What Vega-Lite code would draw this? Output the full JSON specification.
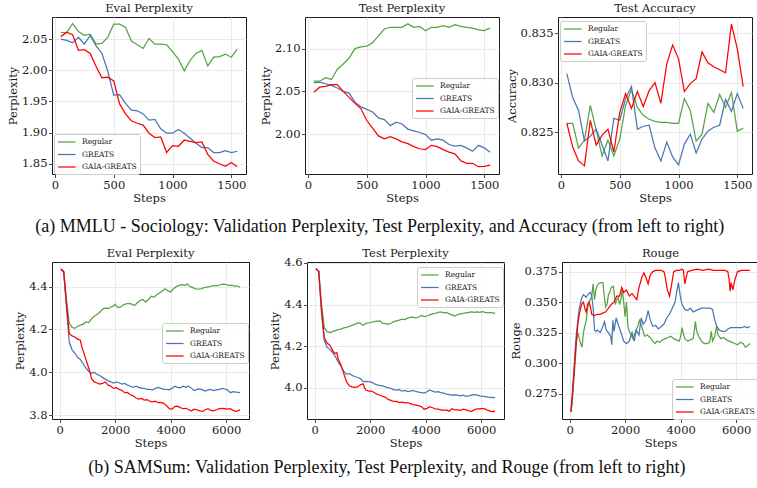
{
  "$schema": "https://vega.github.io/schema/vega-lite/v6.json",
  "background": "white",
  "padding": {"left": 6, "top": 2, "right": 5, "bottom": 5},
  "config": {
    "font": "DejaVu Serif",
    "view": {"stroke": "#1a1a1a", "strokeWidth": 1},
    "axis": {
      "grid": true, "gridColor": "#e4e4e4", "gridWidth": 0.8, "domain": false,
      "tickColor": "#1a1a1a", "tickSize": 3.5, "tickWidth": 0.8,
      "labelFont": "DejaVu Serif", "labelFontSize": 11.5, "labelColor": "#1a1a1a", "labelPadding": 1.5,
      "titleFont": "DejaVu Serif", "titleFontSize": 11.5, "titleFontWeight": "normal", "titleColor": "#1a1a1a", "titlePadding": 3
    },
    "axisX": {"labelFlush": false, "titlePadding": 1.5},
    "title": {"font": "DejaVu Serif", "fontSize": 11.5, "fontWeight": "normal", "color": "#1a1a1a", "offset": 3, "frame": "group", "anchor": "middle"},
    "legend": {
      "orient": "none", "symbolType": "M-1,0H3.4", "symbolSize": 64, "symbolStrokeWidth": 1.5,
      "labelFont": "DejaVu Serif", "labelFontSize": 7.5, "labelColor": "#1a1a1a", "labelOffset": 15,
      "rowPadding": 3.5, "padding": 3, "fillColor": "rgba(255,255,255,0.85)", "strokeColor": "#cccccc", "cornerRadius": 2.5
    },
    "line": {"strokeWidth": 1.25, "clip": true}
  },
  "datasets": {
    "mmlu_eval_regular": [{"step":50,"value":2.061},{"step":100,"value":2.060},{"step":150,"value":2.075},{"step":200,"value":2.062},{"step":250,"value":2.056},{"step":300,"value":2.058},{"step":350,"value":2.042},{"step":400,"value":2.043},{"step":450,"value":2.053},{"step":500,"value":2.074},{"step":550,"value":2.074},{"step":600,"value":2.069},{"step":650,"value":2.047},{"step":700,"value":2.041},{"step":750,"value":2.035},{"step":800,"value":2.051},{"step":850,"value":2.042},{"step":900,"value":2.042},{"step":950,"value":2.041},{"step":1000,"value":2.030},{"step":1050,"value":2.018},{"step":1100,"value":1.999},{"step":1150,"value":2.016},{"step":1200,"value":2.027},{"step":1250,"value":2.032},{"step":1300,"value":2.007},{"step":1350,"value":2.021},{"step":1400,"value":2.022},{"step":1450,"value":2.026},{"step":1500,"value":2.021},{"step":1550,"value":2.034}],
    "mmlu_eval_greats": [{"step":50,"value":2.050},{"step":100,"value":2.048},{"step":150,"value":2.044},{"step":200,"value":2.053},{"step":250,"value":2.042},{"step":300,"value":2.056},{"step":350,"value":2.039},{"step":400,"value":2.027},{"step":450,"value":1.998},{"step":500,"value":1.960},{"step":550,"value":1.961},{"step":600,"value":1.947},{"step":650,"value":1.936},{"step":700,"value":1.935},{"step":750,"value":1.930},{"step":800,"value":1.920},{"step":850,"value":1.921},{"step":900,"value":1.906},{"step":950,"value":1.899},{"step":1000,"value":1.899},{"step":1050,"value":1.905},{"step":1100,"value":1.899},{"step":1150,"value":1.891},{"step":1200,"value":1.883},{"step":1250,"value":1.876},{"step":1300,"value":1.876},{"step":1350,"value":1.868},{"step":1400,"value":1.868},{"step":1450,"value":1.871},{"step":1500,"value":1.868},{"step":1550,"value":1.870}],
    "mmlu_eval_gaia": [{"step":50,"value":2.054},{"step":100,"value":2.061},{"step":150,"value":2.057},{"step":200,"value":2.032},{"step":250,"value":2.033},{"step":300,"value":2.027},{"step":350,"value":2.006},{"step":400,"value":1.988},{"step":450,"value":1.989},{"step":500,"value":1.983},{"step":550,"value":1.946},{"step":600,"value":1.930},{"step":650,"value":1.919},{"step":700,"value":1.915},{"step":750,"value":1.912},{"step":800,"value":1.899},{"step":850,"value":1.892},{"step":900,"value":1.893},{"step":950,"value":1.868},{"step":1000,"value":1.879},{"step":1050,"value":1.878},{"step":1100,"value":1.888},{"step":1150,"value":1.886},{"step":1200,"value":1.884},{"step":1250,"value":1.885},{"step":1300,"value":1.865},{"step":1350,"value":1.854},{"step":1400,"value":1.850},{"step":1450,"value":1.846},{"step":1500,"value":1.852},{"step":1550,"value":1.845}],
    "mmlu_test_regular": [{"step":50,"value":2.062},{"step":100,"value":2.062},{"step":150,"value":2.066},{"step":200,"value":2.064},{"step":250,"value":2.076},{"step":300,"value":2.082},{"step":350,"value":2.089},{"step":400,"value":2.100},{"step":450,"value":2.102},{"step":500,"value":2.103},{"step":550,"value":2.107},{"step":600,"value":2.115},{"step":650,"value":2.123},{"step":700,"value":2.125},{"step":750,"value":2.125},{"step":800,"value":2.125},{"step":850,"value":2.129},{"step":900,"value":2.125},{"step":950,"value":2.126},{"step":1000,"value":2.121},{"step":1050,"value":2.125},{"step":1100,"value":2.125},{"step":1150,"value":2.127},{"step":1200,"value":2.125},{"step":1250,"value":2.128},{"step":1300,"value":2.126},{"step":1350,"value":2.125},{"step":1400,"value":2.124},{"step":1450,"value":2.122},{"step":1500,"value":2.121},{"step":1550,"value":2.124}],
    "mmlu_test_greats": [{"step":50,"value":2.060},{"step":100,"value":2.061},{"step":150,"value":2.059},{"step":200,"value":2.057},{"step":250,"value":2.054},{"step":300,"value":2.050},{"step":350,"value":2.048},{"step":400,"value":2.0375},{"step":450,"value":2.032},{"step":500,"value":2.029},{"step":550,"value":2.026},{"step":600,"value":2.019},{"step":650,"value":2.017},{"step":700,"value":2.010},{"step":750,"value":2.014},{"step":800,"value":2.012},{"step":850,"value":2.006},{"step":900,"value":2.004},{"step":950,"value":2.002},{"step":1000,"value":1.9996},{"step":1050,"value":1.993},{"step":1100,"value":1.9945},{"step":1150,"value":1.993},{"step":1200,"value":1.988},{"step":1250,"value":1.986},{"step":1300,"value":1.987},{"step":1350,"value":1.984},{"step":1400,"value":1.980},{"step":1450,"value":1.987},{"step":1500,"value":1.984},{"step":1550,"value":1.979}],
    "mmlu_test_gaia": [{"step":50,"value":2.049},{"step":100,"value":2.055},{"step":150,"value":2.056},{"step":200,"value":2.058},{"step":250,"value":2.058},{"step":300,"value":2.050},{"step":350,"value":2.043},{"step":400,"value":2.036},{"step":450,"value":2.030},{"step":500,"value":2.016},{"step":550,"value":2.007},{"step":600,"value":1.998},{"step":650,"value":1.9945},{"step":700,"value":1.997},{"step":750,"value":1.9945},{"step":800,"value":1.991},{"step":850,"value":1.989},{"step":900,"value":1.9855},{"step":950,"value":1.983},{"step":1000,"value":1.982},{"step":1050,"value":1.987},{"step":1100,"value":1.9855},{"step":1150,"value":1.982},{"step":1200,"value":1.979},{"step":1250,"value":1.977},{"step":1300,"value":1.969},{"step":1350,"value":1.966},{"step":1400,"value":1.966},{"step":1450,"value":1.962},{"step":1500,"value":1.9625},{"step":1550,"value":1.964}],
    "mmlu_acc_regular": [{"step":50,"value":0.8259},{"step":100,"value":0.8259},{"step":150,"value":0.8234},{"step":200,"value":0.8242},{"step":250,"value":0.8277},{"step":300,"value":0.8252},{"step":350,"value":0.8226},{"step":400,"value":0.8242},{"step":450,"value":0.8226},{"step":500,"value":0.8243},{"step":550,"value":0.8277},{"step":600,"value":0.8293},{"step":650,"value":0.8275},{"step":700,"value":0.8267},{"step":750,"value":0.8263},{"step":800,"value":0.8261},{"step":850,"value":0.8260},{"step":900,"value":0.8260},{"step":950,"value":0.8259},{"step":1000,"value":0.8259},{"step":1050,"value":0.8284},{"step":1100,"value":0.8272},{"step":1150,"value":0.8241},{"step":1200,"value":0.8248},{"step":1250,"value":0.8279},{"step":1300,"value":0.8270},{"step":1350,"value":0.8288},{"step":1400,"value":0.8275},{"step":1450,"value":0.8290},{"step":1500,"value":0.8251},{"step":1550,"value":0.8254}],
    "mmlu_acc_greats": [{"step":50,"value":0.8309},{"step":100,"value":0.8285},{"step":150,"value":0.8272},{"step":200,"value":0.8241},{"step":250,"value":0.8246},{"step":300,"value":0.8253},{"step":350,"value":0.8237},{"step":400,"value":0.8221},{"step":450,"value":0.8264},{"step":500,"value":0.8262},{"step":550,"value":0.8284},{"step":600,"value":0.8296},{"step":650,"value":0.8253},{"step":700,"value":0.8256},{"step":750,"value":0.8257},{"step":800,"value":0.8234},{"step":850,"value":0.8221},{"step":900,"value":0.8240},{"step":950,"value":0.8225},{"step":1000,"value":0.8217},{"step":1050,"value":0.8238},{"step":1100,"value":0.8248},{"step":1150,"value":0.8229},{"step":1200,"value":0.8243},{"step":1250,"value":0.8251},{"step":1300,"value":0.8255},{"step":1350,"value":0.8257},{"step":1400,"value":0.8283},{"step":1450,"value":0.8271},{"step":1500,"value":0.8289},{"step":1550,"value":0.8274}],
    "mmlu_acc_gaia": [{"step":50,"value":0.8259},{"step":100,"value":0.8235},{"step":150,"value":0.8221},{"step":200,"value":0.8216},{"step":250,"value":0.8262},{"step":300,"value":0.8237},{"step":350,"value":0.8247},{"step":400,"value":0.8253},{"step":450,"value":0.8230},{"step":500,"value":0.8270},{"step":550,"value":0.8289},{"step":600,"value":0.8274},{"step":650,"value":0.8291},{"step":700,"value":0.8276},{"step":750,"value":0.8292},{"step":800,"value":0.8300},{"step":850,"value":0.8279},{"step":900,"value":0.8319},{"step":950,"value":0.8338},{"step":1000,"value":0.8324},{"step":1050,"value":0.8291},{"step":1100,"value":0.8299},{"step":1150,"value":0.8304},{"step":1200,"value":0.8331},{"step":1250,"value":0.8320},{"step":1300,"value":0.8316},{"step":1350,"value":0.8313},{"step":1400,"value":0.8310},{"step":1450,"value":0.8359},{"step":1500,"value":0.8334},{"step":1550,"value":0.8296}],
    "samsum_eval_regular": [{"step":50,"value":4.482},{"step":150,"value":4.470},{"step":250,"value":4.34},{"step":350,"value":4.23},{"step":450,"value":4.21},{"step":550,"value":4.205},{"step":650,"value":4.215},{"step":750,"value":4.22},{"step":850,"value":4.225},{"step":950,"value":4.235},{"step":1050,"value":4.232},{"step":1150,"value":4.25},{"step":1250,"value":4.262},{"step":1350,"value":4.27},{"step":1450,"value":4.28},{"step":1550,"value":4.295},{"step":1650,"value":4.30},{"step":1750,"value":4.298},{"step":1850,"value":4.305},{"step":1950,"value":4.31},{"step":2000,"value":4.318},{"step":2100,"value":4.302},{"step":2200,"value":4.305},{"step":2300,"value":4.315},{"step":2400,"value":4.32},{"step":2500,"value":4.322},{"step":2600,"value":4.318},{"step":2700,"value":4.312},{"step":2800,"value":4.325},{"step":2900,"value":4.335},{"step":3000,"value":4.34},{"step":3100,"value":4.328},{"step":3200,"value":4.34},{"step":3300,"value":4.355},{"step":3400,"value":4.35},{"step":3500,"value":4.362},{"step":3600,"value":4.37},{"step":3700,"value":4.38},{"step":3800,"value":4.39},{"step":3900,"value":4.38},{"step":4000,"value":4.375},{"step":4100,"value":4.39},{"step":4200,"value":4.40},{"step":4300,"value":4.405},{"step":4400,"value":4.41},{"step":4500,"value":4.405},{"step":4600,"value":4.412},{"step":4700,"value":4.40},{"step":4800,"value":4.395},{"step":4900,"value":4.39},{"step":5000,"value":4.388},{"step":5100,"value":4.39},{"step":5200,"value":4.395},{"step":5300,"value":4.398},{"step":5400,"value":4.40},{"step":5500,"value":4.404},{"step":5600,"value":4.406},{"step":5700,"value":4.405},{"step":5800,"value":4.41},{"step":5900,"value":4.412},{"step":6000,"value":4.41},{"step":6100,"value":4.405},{"step":6200,"value":4.407},{"step":6300,"value":4.402},{"step":6400,"value":4.404},{"step":6500,"value":4.398}],
    "samsum_eval_greats": [{"step":50,"value":4.482},{"step":150,"value":4.465},{"step":250,"value":4.30},{"step":350,"value":4.14},{"step":450,"value":4.105},{"step":550,"value":4.09},{"step":650,"value":4.07},{"step":750,"value":4.06},{"step":850,"value":4.04},{"step":950,"value":4.02},{"step":1050,"value":4.005},{"step":1150,"value":3.995},{"step":1250,"value":4.0},{"step":1350,"value":3.99},{"step":1450,"value":3.985},{"step":1550,"value":3.975},{"step":1650,"value":3.968},{"step":1750,"value":3.96},{"step":1850,"value":3.955},{"step":1950,"value":3.95},{"step":2050,"value":3.955},{"step":2150,"value":3.95},{"step":2250,"value":3.945},{"step":2350,"value":3.948},{"step":2450,"value":3.94},{"step":2550,"value":3.935},{"step":2650,"value":3.93},{"step":2750,"value":3.935},{"step":2850,"value":3.93},{"step":2950,"value":3.925},{"step":3050,"value":3.925},{"step":3150,"value":3.92},{"step":3250,"value":3.92},{"step":3350,"value":3.918},{"step":3450,"value":3.925},{"step":3550,"value":3.93},{"step":3650,"value":3.925},{"step":3750,"value":3.92},{"step":3850,"value":3.92},{"step":3950,"value":3.918},{"step":4050,"value":3.925},{"step":4150,"value":3.935},{"step":4250,"value":3.93},{"step":4350,"value":3.928},{"step":4450,"value":3.935},{"step":4550,"value":3.93},{"step":4650,"value":3.935},{"step":4750,"value":3.925},{"step":4850,"value":3.915},{"step":4950,"value":3.92},{"step":5050,"value":3.922},{"step":5150,"value":3.918},{"step":5250,"value":3.912},{"step":5350,"value":3.918},{"step":5450,"value":3.92},{"step":5550,"value":3.915},{"step":5650,"value":3.918},{"step":5750,"value":3.92},{"step":5850,"value":3.925},{"step":5950,"value":3.922},{"step":6050,"value":3.918},{"step":6150,"value":3.905},{"step":6250,"value":3.91},{"step":6350,"value":3.908},{"step":6450,"value":3.905},{"step":6500,"value":3.906}],
    "samsum_eval_gaia": [{"step":50,"value":4.482},{"step":150,"value":4.47},{"step":250,"value":4.32},{"step":350,"value":4.18},{"step":450,"value":4.17},{"step":550,"value":4.165},{"step":650,"value":4.155},{"step":750,"value":4.15},{"step":800,"value":4.12},{"step":900,"value":4.08},{"step":1000,"value":4.04},{"step":1100,"value":4.0},{"step":1150,"value":3.97},{"step":1250,"value":3.955},{"step":1350,"value":3.95},{"step":1450,"value":3.945},{"step":1550,"value":3.948},{"step":1650,"value":3.955},{"step":1750,"value":3.94},{"step":1850,"value":3.935},{"step":1950,"value":3.925},{"step":2050,"value":3.928},{"step":2150,"value":3.92},{"step":2250,"value":3.915},{"step":2350,"value":3.905},{"step":2450,"value":3.905},{"step":2550,"value":3.895},{"step":2650,"value":3.89},{"step":2750,"value":3.88},{"step":2850,"value":3.875},{"step":2950,"value":3.878},{"step":3050,"value":3.87},{"step":3150,"value":3.872},{"step":3250,"value":3.865},{"step":3350,"value":3.862},{"step":3450,"value":3.865},{"step":3550,"value":3.858},{"step":3650,"value":3.86},{"step":3750,"value":3.855},{"step":3850,"value":3.845},{"step":3950,"value":3.83},{"step":4050,"value":3.828},{"step":4150,"value":3.84},{"step":4250,"value":3.842},{"step":4350,"value":3.835},{"step":4450,"value":3.83},{"step":4550,"value":3.832},{"step":4650,"value":3.825},{"step":4750,"value":3.82},{"step":4850,"value":3.828},{"step":4950,"value":3.825},{"step":5050,"value":3.82},{"step":5150,"value":3.818},{"step":5250,"value":3.825},{"step":5350,"value":3.83},{"step":5450,"value":3.822},{"step":5550,"value":3.82},{"step":5650,"value":3.825},{"step":5750,"value":3.83},{"step":5850,"value":3.832},{"step":5950,"value":3.83},{"step":6050,"value":3.828},{"step":6150,"value":3.83},{"step":6250,"value":3.822},{"step":6350,"value":3.818},{"step":6450,"value":3.822},{"step":6500,"value":3.826}],
    "samsum_test_regular": [{"step":50,"value":4.572},{"step":150,"value":4.56},{"step":250,"value":4.40},{"step":350,"value":4.29},{"step":450,"value":4.27},{"step":550,"value":4.265},{"step":650,"value":4.27},{"step":750,"value":4.275},{"step":850,"value":4.28},{"step":950,"value":4.282},{"step":1050,"value":4.288},{"step":1150,"value":4.29},{"step":1250,"value":4.295},{"step":1350,"value":4.30},{"step":1450,"value":4.305},{"step":1550,"value":4.312},{"step":1650,"value":4.31},{"step":1750,"value":4.30},{"step":1850,"value":4.31},{"step":1950,"value":4.312},{"step":2050,"value":4.315},{"step":2150,"value":4.318},{"step":2250,"value":4.32},{"step":2350,"value":4.322},{"step":2450,"value":4.31},{"step":2550,"value":4.308},{"step":2650,"value":4.305},{"step":2750,"value":4.31},{"step":2850,"value":4.318},{"step":2950,"value":4.322},{"step":3050,"value":4.325},{"step":3150,"value":4.33},{"step":3250,"value":4.328},{"step":3350,"value":4.335},{"step":3450,"value":4.338},{"step":3550,"value":4.34},{"step":3650,"value":4.335},{"step":3750,"value":4.34},{"step":3850,"value":4.348},{"step":3950,"value":4.342},{"step":4050,"value":4.345},{"step":4150,"value":4.35},{"step":4250,"value":4.355},{"step":4350,"value":4.358},{"step":4450,"value":4.362},{"step":4550,"value":4.365},{"step":4650,"value":4.36},{"step":4750,"value":4.362},{"step":4850,"value":4.355},{"step":4950,"value":4.35},{"step":5050,"value":4.345},{"step":5150,"value":4.352},{"step":5250,"value":4.355},{"step":5350,"value":4.358},{"step":5450,"value":4.36},{"step":5550,"value":4.362},{"step":5650,"value":4.365},{"step":5750,"value":4.362},{"step":5850,"value":4.365},{"step":5950,"value":4.363},{"step":6050,"value":4.366},{"step":6150,"value":4.362},{"step":6250,"value":4.36},{"step":6350,"value":4.362},{"step":6450,"value":4.358},{"step":6500,"value":4.36}],
    "samsum_test_greats": [{"step":50,"value":4.572},{"step":150,"value":4.56},{"step":250,"value":4.36},{"step":350,"value":4.23},{"step":450,"value":4.195},{"step":550,"value":4.185},{"step":650,"value":4.17},{"step":750,"value":4.15},{"step":850,"value":4.125},{"step":950,"value":4.105},{"step":1050,"value":4.08},{"step":1150,"value":4.065},{"step":1250,"value":4.07},{"step":1350,"value":4.06},{"step":1450,"value":4.055},{"step":1550,"value":4.05},{"step":1650,"value":4.045},{"step":1750,"value":4.03},{"step":1850,"value":4.032},{"step":1950,"value":4.03},{"step":2050,"value":4.028},{"step":2150,"value":4.02},{"step":2250,"value":4.015},{"step":2350,"value":4.012},{"step":2450,"value":4.01},{"step":2550,"value":4.005},{"step":2650,"value":4.0},{"step":2750,"value":3.998},{"step":2850,"value":3.992},{"step":2950,"value":3.99},{"step":3050,"value":3.992},{"step":3150,"value":3.985},{"step":3250,"value":3.988},{"step":3350,"value":3.982},{"step":3450,"value":3.985},{"step":3550,"value":3.988},{"step":3650,"value":3.983},{"step":3750,"value":3.98},{"step":3850,"value":3.978},{"step":3950,"value":3.975},{"step":4050,"value":3.982},{"step":4150,"value":3.99},{"step":4250,"value":3.985},{"step":4350,"value":3.98},{"step":4450,"value":3.982},{"step":4550,"value":3.978},{"step":4650,"value":3.975},{"step":4750,"value":3.97},{"step":4850,"value":3.968},{"step":4950,"value":3.965},{"step":5050,"value":3.967},{"step":5150,"value":3.965},{"step":5250,"value":3.962},{"step":5350,"value":3.965},{"step":5450,"value":3.96},{"step":5550,"value":3.962},{"step":5650,"value":3.965},{"step":5750,"value":3.968},{"step":5850,"value":3.965},{"step":5950,"value":3.962},{"step":6050,"value":3.96},{"step":6150,"value":3.958},{"step":6250,"value":3.956},{"step":6350,"value":3.955},{"step":6450,"value":3.954},{"step":6500,"value":3.955}],
    "samsum_test_gaia": [{"step":50,"value":4.572},{"step":150,"value":4.56},{"step":250,"value":4.38},{"step":350,"value":4.24},{"step":450,"value":4.215},{"step":550,"value":4.205},{"step":650,"value":4.18},{"step":700,"value":4.17},{"step":750,"value":4.165},{"step":800,"value":4.17},{"step":850,"value":4.14},{"step":950,"value":4.11},{"step":1050,"value":4.07},{"step":1150,"value":4.03},{"step":1250,"value":4.01},{"step":1350,"value":4.005},{"step":1450,"value":4.003},{"step":1550,"value":4.005},{"step":1650,"value":4.015},{"step":1750,"value":4.02},{"step":1800,"value":4.0},{"step":1850,"value":3.99},{"step":1950,"value":3.985},{"step":2050,"value":3.985},{"step":2150,"value":3.978},{"step":2250,"value":3.97},{"step":2350,"value":3.965},{"step":2450,"value":3.96},{"step":2550,"value":3.955},{"step":2650,"value":3.945},{"step":2750,"value":3.94},{"step":2850,"value":3.935},{"step":2950,"value":3.935},{"step":3050,"value":3.93},{"step":3150,"value":3.932},{"step":3250,"value":3.928},{"step":3350,"value":3.93},{"step":3450,"value":3.925},{"step":3550,"value":3.92},{"step":3650,"value":3.918},{"step":3750,"value":3.915},{"step":3850,"value":3.91},{"step":3950,"value":3.898},{"step":4050,"value":3.902},{"step":4150,"value":3.91},{"step":4250,"value":3.905},{"step":4350,"value":3.9},{"step":4450,"value":3.898},{"step":4550,"value":3.895},{"step":4650,"value":3.892},{"step":4750,"value":3.895},{"step":4850,"value":3.888},{"step":4950,"value":3.9},{"step":5050,"value":3.895},{"step":5150,"value":3.895},{"step":5250,"value":3.892},{"step":5350,"value":3.898},{"step":5450,"value":3.895},{"step":5550,"value":3.89},{"step":5650,"value":3.888},{"step":5750,"value":3.895},{"step":5850,"value":3.9},{"step":5950,"value":3.9},{"step":6050,"value":3.902},{"step":6150,"value":3.898},{"step":6250,"value":3.892},{"step":6350,"value":3.888},{"step":6450,"value":3.887},{"step":6500,"value":3.89}],
    "samsum_rouge_regular": [{"step":50,"value":0.260},{"step":100,"value":0.268},{"step":150,"value":0.285},{"step":200,"value":0.300},{"step":250,"value":0.318},{"step":300,"value":0.325},{"step":350,"value":0.320},{"step":400,"value":0.316},{"step":450,"value":0.313},{"step":500,"value":0.325},{"step":550,"value":0.330},{"step":600,"value":0.335},{"step":650,"value":0.345},{"step":700,"value":0.350},{"step":750,"value":0.352},{"step":800,"value":0.355},{"step":850,"value":0.365},{"step":900,"value":0.352},{"step":950,"value":0.360},{"step":1000,"value":0.364},{"step":1100,"value":0.366},{"step":1200,"value":0.366},{"step":1250,"value":0.355},{"step":1300,"value":0.346},{"step":1350,"value":0.348},{"step":1400,"value":0.356},{"step":1450,"value":0.358},{"step":1500,"value":0.362},{"step":1580,"value":0.363},{"step":1650,"value":0.348},{"step":1700,"value":0.352},{"step":1750,"value":0.354},{"step":1800,"value":0.348},{"step":1850,"value":0.352},{"step":1900,"value":0.360},{"step":1950,"value":0.350},{"step":2000,"value":0.338},{"step":2050,"value":0.350},{"step":2100,"value":0.330},{"step":2150,"value":0.326},{"step":2200,"value":0.324},{"step":2280,"value":0.320},{"step":2350,"value":0.324},{"step":2450,"value":0.330},{"step":2520,"value":0.335},{"step":2600,"value":0.330},{"step":2700,"value":0.322},{"step":2800,"value":0.323},{"step":2900,"value":0.321},{"step":3000,"value":0.318},{"step":3080,"value":0.316},{"step":3150,"value":0.318},{"step":3250,"value":0.317},{"step":3350,"value":0.319},{"step":3450,"value":0.320},{"step":3550,"value":0.321},{"step":3650,"value":0.322},{"step":3750,"value":0.320},{"step":3850,"value":0.319},{"step":3950,"value":0.318},{"step":4000,"value":0.322},{"step":4050,"value":0.329},{"step":4100,"value":0.324},{"step":4150,"value":0.320},{"step":4250,"value":0.318},{"step":4350,"value":0.319},{"step":4450,"value":0.320},{"step":4500,"value":0.328},{"step":4530,"value":0.334},{"step":4580,"value":0.326},{"step":4650,"value":0.322},{"step":4750,"value":0.318},{"step":4850,"value":0.316},{"step":4950,"value":0.316},{"step":5050,"value":0.317},{"step":5100,"value":0.326},{"step":5150,"value":0.318},{"step":5230,"value":0.322},{"step":5290,"value":0.330},{"step":5350,"value":0.323},{"step":5450,"value":0.320},{"step":5550,"value":0.321},{"step":5650,"value":0.319},{"step":5750,"value":0.318},{"step":5850,"value":0.317},{"step":5950,"value":0.316},{"step":6050,"value":0.315},{"step":6150,"value":0.317},{"step":6250,"value":0.316},{"step":6330,"value":0.313},{"step":6400,"value":0.314},{"step":6500,"value":0.316}],
    "samsum_rouge_greats": [{"step":50,"value":0.260},{"step":100,"value":0.272},{"step":150,"value":0.290},{"step":200,"value":0.310},{"step":250,"value":0.325},{"step":300,"value":0.335},{"step":350,"value":0.345},{"step":400,"value":0.350},{"step":450,"value":0.354},{"step":500,"value":0.356},{"step":550,"value":0.355},{"step":600,"value":0.354},{"step":650,"value":0.356},{"step":700,"value":0.357},{"step":750,"value":0.358},{"step":800,"value":0.355},{"step":850,"value":0.345},{"step":900,"value":0.327},{"step":950,"value":0.326},{"step":1000,"value":0.327},{"step":1100,"value":0.325},{"step":1200,"value":0.330},{"step":1260,"value":0.334},{"step":1320,"value":0.327},{"step":1400,"value":0.325},{"step":1480,"value":0.322},{"step":1520,"value":0.315},{"step":1560,"value":0.335},{"step":1600,"value":0.326},{"step":1680,"value":0.337},{"step":1760,"value":0.331},{"step":1850,"value":0.325},{"step":1950,"value":0.318},{"step":2050,"value":0.316},{"step":2150,"value":0.318},{"step":2250,"value":0.325},{"step":2330,"value":0.318},{"step":2400,"value":0.327},{"step":2500,"value":0.323},{"step":2580,"value":0.337},{"step":2650,"value":0.332},{"step":2750,"value":0.335},{"step":2830,"value":0.343},{"step":2900,"value":0.336},{"step":3000,"value":0.330},{"step":3100,"value":0.331},{"step":3200,"value":0.328},{"step":3300,"value":0.330},{"step":3400,"value":0.332},{"step":3500,"value":0.337},{"step":3600,"value":0.340},{"step":3700,"value":0.345},{"step":3800,"value":0.350},{"step":3870,"value":0.360},{"step":3920,"value":0.366},{"step":3980,"value":0.356},{"step":4050,"value":0.348},{"step":4150,"value":0.344},{"step":4250,"value":0.343},{"step":4350,"value":0.345},{"step":4450,"value":0.342},{"step":4550,"value":0.343},{"step":4650,"value":0.344},{"step":4750,"value":0.345},{"step":4850,"value":0.345},{"step":4950,"value":0.345},{"step":5050,"value":0.345},{"step":5150,"value":0.344},{"step":5220,"value":0.336},{"step":5300,"value":0.330},{"step":5400,"value":0.327},{"step":5500,"value":0.326},{"step":5600,"value":0.326},{"step":5700,"value":0.328},{"step":5800,"value":0.329},{"step":5900,"value":0.329},{"step":6000,"value":0.329},{"step":6100,"value":0.329},{"step":6200,"value":0.329},{"step":6300,"value":0.330},{"step":6400,"value":0.329},{"step":6500,"value":0.330}],
    "samsum_rouge_gaia": [{"step":50,"value":0.260},{"step":100,"value":0.275},{"step":150,"value":0.290},{"step":200,"value":0.305},{"step":250,"value":0.320},{"step":300,"value":0.332},{"step":350,"value":0.340},{"step":400,"value":0.345},{"step":450,"value":0.349},{"step":500,"value":0.350},{"step":550,"value":0.345},{"step":600,"value":0.342},{"step":650,"value":0.348},{"step":700,"value":0.350},{"step":750,"value":0.346},{"step":800,"value":0.340},{"step":900,"value":0.339},{"step":1000,"value":0.340},{"step":1100,"value":0.340},{"step":1200,"value":0.341},{"step":1300,"value":0.342},{"step":1400,"value":0.345},{"step":1500,"value":0.348},{"step":1600,"value":0.350},{"step":1700,"value":0.355},{"step":1800,"value":0.355},{"step":1880,"value":0.362},{"step":1950,"value":0.358},{"step":2050,"value":0.360},{"step":2150,"value":0.355},{"step":2250,"value":0.357},{"step":2350,"value":0.354},{"step":2420,"value":0.352},{"step":2500,"value":0.362},{"step":2600,"value":0.370},{"step":2680,"value":0.374},{"step":2750,"value":0.370},{"step":2830,"value":0.365},{"step":2900,"value":0.372},{"step":3000,"value":0.375},{"step":3100,"value":0.376},{"step":3200,"value":0.376},{"step":3300,"value":0.376},{"step":3400,"value":0.375},{"step":3450,"value":0.370},{"step":3520,"value":0.360},{"step":3600,"value":0.355},{"step":3680,"value":0.365},{"step":3750,"value":0.375},{"step":3850,"value":0.376},{"step":3950,"value":0.376},{"step":4050,"value":0.377},{"step":4100,"value":0.376},{"step":4150,"value":0.365},{"step":4200,"value":0.370},{"step":4250,"value":0.375},{"step":4400,"value":0.376},{"step":4600,"value":0.377},{"step":4800,"value":0.376},{"step":5000,"value":0.377},{"step":5200,"value":0.376},{"step":5400,"value":0.376},{"step":5600,"value":0.376},{"step":5700,"value":0.375},{"step":5750,"value":0.368},{"step":5780,"value":0.359},{"step":5820,"value":0.366},{"step":5880,"value":0.360},{"step":5950,"value":0.368},{"step":6050,"value":0.375},{"step":6200,"value":0.376},{"step":6350,"value":0.376},{"step":6500,"value":0.376}]
  },
  "resolve": {"scale": {"color": "independent"}, "legend": {"color": "independent"}},
  "bounds": "full",
  "spacing": 11,
  "vconcat": [
    {
      "bounds": "flush",
      "spacing": 59,
      "resolve": {"scale": {"color": "independent"}, "legend": {"color": "independent"}},
      "title": {"text": "(a) MMLU - Sociology: Validation Perplexity, Test Perplexity, and Accuracy (from left to right)", "orient": "bottom", "anchor": "middle", "frame": "bounds", "font": "Liberation Serif", "fontSize": 18, "fontWeight": "normal", "color": "#111111", "offset": 14},
      "hconcat": [
        {
          "width": 194, "height": 157,
          "title": {"text": "Eval Perplexity"},
          "encoding": {
            "x": {"field": "step", "type": "quantitative", "scale": {"domain": [-25, 1625], "nice": false, "zero": false}, "axis": {"values": [0, 500, 1000, 1500], "format": "d", "title": "Steps"}},
            "y": {"field": "value", "type": "quantitative", "scale": {"domain": [1.8335, 2.0855], "nice": false, "zero": false}, "axis": {"values": [1.85, 1.9, 1.95, 2.0, 2.05], "format": ".2f", "title": "Perplexity"}}
          },
          "layer": [
            {"data": {"name": "mmlu_eval_regular"}, "mark": "line", "encoding": {"color": {"datum": "Regular", "type": "nominal", "scale": {"domain": ["Regular", "GREATS", "GAIA-GREATS"], "range": ["#55a444", "#4b76b2", "#ff0000"]}, "legend": {"title": null, "legendX": 2, "legendY": 117}}}},
            {"data": {"name": "mmlu_eval_greats"}, "mark": "line", "encoding": {"color": {"datum": "GREATS", "type": "nominal"}}},
            {"data": {"name": "mmlu_eval_gaia"}, "mark": "line", "encoding": {"color": {"datum": "GAIA-GREATS", "type": "nominal"}}}
          ]
        },
        {
          "width": 194, "height": 157,
          "title": {"text": "Test Perplexity"},
          "encoding": {
            "x": {"field": "step", "type": "quantitative", "scale": {"domain": [-25, 1625], "nice": false, "zero": false}, "axis": {"values": [0, 500, 1000, 1500], "format": "d", "title": "Steps"}},
            "y": {"field": "value", "type": "quantitative", "scale": {"domain": [1.9535, 2.137], "nice": false, "zero": false}, "axis": {"values": [2.0, 2.05, 2.1], "format": ".2f", "title": "Perplexity"}}
          },
          "layer": [
            {"data": {"name": "mmlu_test_regular"}, "mark": "line", "encoding": {"color": {"datum": "Regular", "type": "nominal", "scale": {"domain": ["Regular", "GREATS", "GAIA-GREATS"], "range": ["#55a444", "#4b76b2", "#ff0000"]}, "legend": {"title": null, "legendX": 107, "legendY": 61}}}},
            {"data": {"name": "mmlu_test_greats"}, "mark": "line", "encoding": {"color": {"datum": "GREATS", "type": "nominal"}}},
            {"data": {"name": "mmlu_test_gaia"}, "mark": "line", "encoding": {"color": {"datum": "GAIA-GREATS", "type": "nominal"}}}
          ]
        },
        {
          "width": 194, "height": 157,
          "title": {"text": "Test Accuracy"},
          "encoding": {
            "x": {"field": "step", "type": "quantitative", "scale": {"domain": [-25, 1625], "nice": false, "zero": false}, "axis": {"values": [0, 500, 1000, 1500], "format": "d", "title": "Steps"}},
            "y": {"field": "value", "type": "quantitative", "scale": {"domain": [0.82078, 0.83662], "nice": false, "zero": false}, "axis": {"values": [0.825, 0.83, 0.835], "format": ".3f", "title": "Accuracy"}}
          },
          "layer": [
            {"data": {"name": "mmlu_acc_regular"}, "mark": "line", "encoding": {"color": {"datum": "Regular", "type": "nominal", "scale": {"domain": ["Regular", "GREATS", "GAIA-GREATS"], "range": ["#55a444", "#4b76b2", "#ff0000"]}, "legend": {"title": null, "legendX": 2, "legendY": 4}}}},
            {"data": {"name": "mmlu_acc_greats"}, "mark": "line", "encoding": {"color": {"datum": "GREATS", "type": "nominal"}}},
            {"data": {"name": "mmlu_acc_gaia"}, "mark": "line", "encoding": {"color": {"datum": "GAIA-GREATS", "type": "nominal"}}}
          ]
        }
      ]
    },
    {
      "bounds": "flush",
      "spacing": 58,
      "resolve": {"scale": {"color": "independent"}, "legend": {"color": "independent"}},
      "title": {"text": "(b) SAMSum: Validation Perplexity, Test Perplexity, and Rouge (from left to right)", "orient": "bottom", "anchor": "middle", "frame": "bounds", "font": "Liberation Serif", "fontSize": 18, "fontWeight": "normal", "color": "#111111", "offset": 10},
      "hconcat": [
        {
          "width": 197, "height": 157,
          "title": {"text": "Eval Perplexity"},
          "encoding": {
            "x": {"field": "step", "type": "quantitative", "scale": {"domain": [-272, 6822], "nice": false, "zero": false}, "axis": {"values": [0, 2000, 4000, 6000], "format": "d", "title": "Steps"}},
            "y": {"field": "value", "type": "quantitative", "scale": {"domain": [3.782, 4.515], "nice": false, "zero": false}, "axis": {"values": [3.8, 4.0, 4.2, 4.4], "format": ".1f", "title": "Perplexity"}}
          },
          "layer": [
            {"data": {"name": "samsum_eval_regular"}, "mark": "line", "encoding": {"color": {"datum": "Regular", "type": "nominal", "scale": {"domain": ["Regular", "GREATS", "GAIA-GREATS"], "range": ["#55a444", "#4b76b2", "#ff0000"]}, "legend": {"title": null, "legendX": 110, "legendY": 61}}}},
            {"data": {"name": "samsum_eval_greats"}, "mark": "line", "encoding": {"color": {"datum": "GREATS", "type": "nominal"}}},
            {"data": {"name": "samsum_eval_gaia"}, "mark": "line", "encoding": {"color": {"datum": "GAIA-GREATS", "type": "nominal"}}}
          ]
        },
        {
          "width": 197, "height": 157,
          "title": {"text": "Test Perplexity", "offset": -3},
          "encoding": {
            "x": {"field": "step", "type": "quantitative", "scale": {"domain": [-272, 6822], "nice": false, "zero": false}, "axis": {"values": [0, 2000, 4000, 6000], "format": "d", "title": "Steps"}},
            "y": {"field": "value", "type": "quantitative", "scale": {"domain": [3.851, 4.604], "nice": false, "zero": false}, "axis": {"values": [4.0, 4.2, 4.4, 4.6], "format": ".1f", "title": "Perplexity"}}
          },
          "layer": [
            {"data": {"name": "samsum_test_regular"}, "mark": "line", "encoding": {"color": {"datum": "Regular", "type": "nominal", "scale": {"domain": ["Regular", "GREATS", "GAIA-GREATS"], "range": ["#55a444", "#4b76b2", "#ff0000"]}, "legend": {"title": null, "legendX": 110, "legendY": 5}}}},
            {"data": {"name": "samsum_test_greats"}, "mark": "line", "encoding": {"color": {"datum": "GREATS", "type": "nominal"}}},
            {"data": {"name": "samsum_test_gaia"}, "mark": "line", "encoding": {"color": {"datum": "GAIA-GREATS", "type": "nominal"}}}
          ]
        },
        {
          "width": 197, "height": 157,
          "title": {"text": "Rouge"},
          "encoding": {
            "x": {"field": "step", "type": "quantitative", "scale": {"domain": [-272, 6822], "nice": false, "zero": false}, "axis": {"values": [0, 2000, 4000, 6000], "format": "d", "title": "Steps"}},
            "y": {"field": "value", "type": "quantitative", "scale": {"domain": [0.2541, 0.3829], "nice": false, "zero": false}, "axis": {"values": [0.275, 0.3, 0.325, 0.35, 0.375], "format": ".3f", "title": "Rouge"}}
          },
          "layer": [
            {"data": {"name": "samsum_rouge_regular"}, "mark": "line", "encoding": {"color": {"datum": "Regular", "type": "nominal", "scale": {"domain": ["Regular", "GREATS", "GAIA-GREATS"], "range": ["#55a444", "#4b76b2", "#ff0000"]}, "legend": {"title": null, "legendX": 110, "legendY": 117}}}},
            {"data": {"name": "samsum_rouge_greats"}, "mark": "line", "encoding": {"color": {"datum": "GREATS", "type": "nominal"}}},
            {"data": {"name": "samsum_rouge_gaia"}, "mark": "line", "encoding": {"color": {"datum": "GAIA-GREATS", "type": "nominal"}}}
          ]
        }
      ]
    }
  ]
}
